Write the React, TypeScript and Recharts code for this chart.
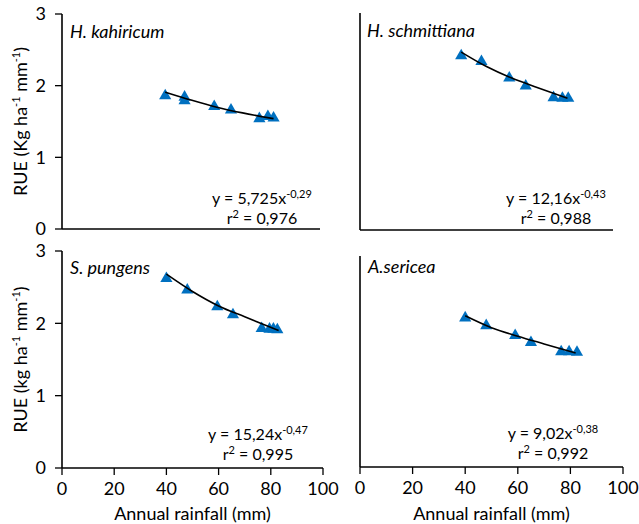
import { ScatterChart, Scatter, XAxis, YAxis } from "recharts";

const X_TICKS = [0, 20, 40, 60, 80, 100];
const Y_TICKS_LEFT = [0, 1, 2, 3];
const Y_TICKS_RIGHT = [0, 0.5, 1, 1.5, 2, 2.5, 3];

// H. kahiricum
const kahRain = [40, 47.5, 47.5, 59, 65.5, 76.5, 79.8, 82];
const kahRue = [1.86, 1.84, 1.79, 1.71, 1.66, 1.54, 1.57, 1.55];
const kahTrendX = [40, 50, 60, 70, 82];
const kahTrendY = [1.91, 1.8, 1.7, 1.62, 1.54];

// H. schmittiana
const schRain = [40, 48, 59, 65.5, 76.5, 80, 82.3];
const schRue = [2.41, 2.33, 2.1, 1.99, 1.83, 1.82, 1.82];
const schTrendX = [40, 50, 60, 70, 82];
const schTrendY = [2.46, 2.26, 2.1, 1.97, 1.82];

// S. pungens
const punRain = [40, 48, 59.5, 65.5, 76.5, 79.5, 81, 82.5];
const punRue = [2.62, 2.46, 2.23, 2.12, 1.93, 1.92, 1.92, 1.91];
const punTrendX = [40, 50, 60, 70, 83];
const punTrendY = [2.68, 2.44, 2.24, 2.09, 1.9];

// A. sericea
const serRain = [40, 48, 59, 65, 76.5, 79.5, 82.5];
const serRue = [2.12, 2.01, 1.87, 1.77, 1.64, 1.64, 1.63];
const serTrendX = [40, 50, 60, 70, 82];
const serTrendY = [2.15, 1.98, 1.86, 1.75, 1.62];

const FONT = "Lato, 'Open Sans', sans-serif";
const BLUE = "#0070C0";

const zip = (xs: number[], ys: number[]) => xs.map((x, i) => ({ x, y: ys[i] }));

function YTitle(unit: string) {
  return (props: any) => {
    const vb = props.viewBox;
    const cy = vb.y + vb.height / 2;
    const cx = 27;
    return (
      <text
        x={cx}
        y={cy}
        transform={`rotate(-90, ${cx}, ${cy})`}
        textAnchor="middle"
        fontFamily={FONT}
        fontSize={18}
        fill="#000"
      >
        {`RUE (${unit} ha`}
        <tspan dy={-7} fontSize={11}>-1</tspan>
        <tspan dy={7}> mm</tspan>
        <tspan dy={-7} fontSize={11}>-1</tspan>
        <tspan dy={7}>)</tspan>
      </text>
    );
  };
}

type PanelProps = {
  left: number;
  top: number;
  width: number;
  height: number;
  margin: { top: number; right: number; left: number; bottom: number };
  yWidth: number;
  xHeight: number;
  showYLabels: boolean;
  showXLabels: boolean;
  unit?: string;
  points: { x: number; y: number }[];
  trend: { x: number; y: number }[];
};

function Panel(p: PanelProps) {
  const axisLine = { stroke: "#000", strokeWidth: 1.6 };
  const tickLine = { stroke: "#000", strokeWidth: 1.3 };
  return (
    <div style={{ position: "absolute", left: p.left, top: p.top }}>
      <ScatterChart width={p.width} height={p.height} margin={p.margin}>
        <XAxis
          type="number"
          dataKey="x"
          domain={[0, 100]}
          ticks={X_TICKS}
          height={p.xHeight}
          axisLine={axisLine}
          tickLine={tickLine}
          tickSize={7}
          tickMargin={7}
          tick={p.showXLabels ? { fill: "#000", fontSize: 18, fontFamily: FONT } : false}
          label={
            p.showXLabels
              ? { value: "Annual rainfall  (mm)", position: "insideBottom", offset: 4, fill: "#000", fontSize: 18, fontFamily: FONT }
              : undefined
          }
          allowDataOverflow
        />
        <YAxis
          type="number"
          dataKey="y"
          domain={[0, 3]}
          ticks={p.showYLabels ? Y_TICKS_LEFT : Y_TICKS_RIGHT}
          width={p.yWidth}
          axisLine={axisLine}
          tickLine={tickLine}
          tickSize={7}
          tickMargin={9}
          tick={p.showYLabels ? { fill: "#000", fontSize: 18, fontFamily: FONT } : false}
          label={p.showYLabels && p.unit ? { content: YTitle(p.unit) } : undefined}
          allowDataOverflow
        />
        <Scatter
          data={p.points}
          fill={BLUE}
          shape="triangle"
          isAnimationActive={false}
        />
        <Scatter
          data={p.trend}
          line={{ stroke: "#000", strokeWidth: 1.6 }}
          lineJointType="monotoneX"
          shape={() => <g />}
          isAnimationActive={false}
        />
      </ScatterChart>
    </div>
  );
}

function Eq({ cx, y, coef, exp, r2 }: { cx: number; y: number; coef: string; exp: string; r2: string }) {
  return (
    <g fontFamily={FONT} fontSize={16} fill="#000">
      <text x={cx} y={y} textAnchor="middle">
        {`y = ${coef}x`}
        <tspan dy={-6} fontSize={11}>{exp}</tspan>
      </text>
      <text x={cx} y={y + 20} textAnchor="middle">
        r<tspan dy={-6} fontSize={11}>2</tspan>
        <tspan dy={6}>{` = ${r2}`}</tspan>
      </text>
    </g>
  );
}

function Species({ x, y, name }: { x: number; y: number; name: string }) {
  return (
    <text x={x} y={y} fontFamily={FONT} fontSize={18} fontStyle="italic" fill="#000">
      {name}
    </text>
  );
}

export default function App() {
  return (
    <div style={{ position: "absolute", left: 0, top: 0, width: 639, height: 524, background: "#fff" }}>
      <Panel
        left={0}
        top={0}
        width={330}
        height={250}
        margin={{ top: 14, right: 10, left: 0, bottom: 0 }}
        yWidth={62}
        xHeight={21}
        showYLabels
        showXLabels={false}
        unit="Kg"
        points={zip(kahRain, kahRue)}
        trend={zip(kahTrendX, kahTrendY)}
      />
      <Panel
        left={330}
        top={0}
        width={300}
        height={250}
        margin={{ top: 13, right: 17, left: 0, bottom: 0 }}
        yWidth={30}
        xHeight={20}
        showYLabels={false}
        showXLabels={false}
        points={zip(schRain, schRue)}
        trend={zip(schTrendX, schTrendY)}
      />
      <Panel
        left={0}
        top={240}
        width={345}
        height={284}
        margin={{ top: 11, right: 22, left: 0, bottom: 0 }}
        yWidth={62}
        xHeight={56}
        showYLabels
        showXLabels
        unit="kg"
        points={zip(punRain, punRue)}
        trend={zip(punTrendX, punTrendY)}
      />
      <Panel
        left={330}
        top={240}
        width={309}
        height={284}
        margin={{ top: 16, right: 16, left: 0, bottom: 0 }}
        yWidth={30}
        xHeight={57}
        showYLabels={false}
        showXLabels
        points={zip(serRain, serRue)}
        trend={zip(serTrendX, serTrendY)}
      />
      <svg width={639} height={524} style={{ position: "absolute", left: 0, top: 0, pointerEvents: "none" }}>
        <Species x={70} y={38} name="H. kahiricum" />
        <Species x={367} y={37} name="H. schmittiana" />
        <Species x={70} y={274} name="S. pungens" />
        <Species x={368} y={273} name="A.sericea" />
        <Eq cx={262} y={204} coef="5,725" exp="-0,29" r2="0,976" />
        <Eq cx={556} y={204} coef="12,16" exp="-0,43" r2="0,988" />
        <Eq cx={258} y={440} coef="15,24" exp="-0,47" r2="0,995" />
        <Eq cx={553} y={439} coef="9,02" exp="-0,38" r2="0,992" />
      </svg>
    </div>
  );
}
